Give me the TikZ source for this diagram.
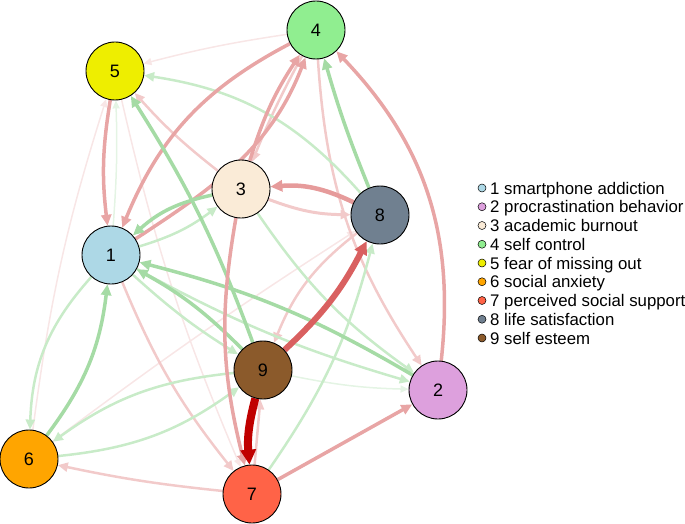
\documentclass[tikz,border=0pt]{standalone}
\usepackage{fontspec}
\setmainfont{Liberation Sans}
\usetikzlibrary{arrows.meta,backgrounds}
\definecolor{cA}{HTML}{ADD8E6}
\definecolor{cB}{HTML}{DDA0DD}
\definecolor{cC}{HTML}{FAEBD7}
\definecolor{cD}{HTML}{90EE90}
\definecolor{cE}{HTML}{EEEE00}
\definecolor{cF}{HTML}{FFA500}
\definecolor{cG}{HTML}{FF6347}
\definecolor{cH}{HTML}{708090}
\definecolor{cI}{HTML}{8B5A2B}
\definecolor{rD}{HTML}{C00000}
\definecolor{rS}{HTML}{D96060}
\definecolor{rM}{HTML}{E8A5A5}
\definecolor{rL}{HTML}{F2CACA}
\definecolor{rF}{HTML}{F8E6E6}
\definecolor{gM}{HTML}{A5DBA5}
\definecolor{gL}{HTML}{C8EBC8}
\definecolor{gF}{HTML}{E4F4E4}
\tikzset{
  vtx/.style={circle,draw=black,line width=0.9pt,minimum size=58pt,inner sep=0pt,font=\fontsize{18}{18}\selectfont},
  edR/.style={draw=rD,line width=8pt,-{Triangle[length=15pt,width=15pt]}},
  edS/.style={draw=rS,line width=6pt,-{Triangle[length=13pt,width=13pt]}},
  edM/.style={draw=rM,line width=3.5pt,-{Triangle[length=11pt,width=10pt]}},
  edL/.style={draw=rL,line width=2.5pt,-{Triangle[length=10pt,width=9pt]}},
  edF/.style={draw=rF,line width=1.5pt,-{Triangle[length=8pt,width=7pt]}},
  egM/.style={draw=gM,line width=3.5pt,-{Triangle[length=11pt,width=10pt]}},
  egL/.style={draw=gL,line width=2.5pt,-{Triangle[length=10pt,width=9pt]}},
  egF/.style={draw=gF,line width=1.5pt,-{Triangle[length=8pt,width=7pt]}},
  legdot/.style={circle,draw=black,line width=0.5pt,minimum size=8pt,inner sep=0pt},
  legtxt/.style={anchor=base west,inner sep=0pt,font=\fontsize{16.8}{18}\selectfont}
}
\begin{document}
\begin{tikzpicture}[x=1pt,y=-1pt]
\useasboundingbox (0,0) rectangle (685,524);
\node[vtx,fill=cA] (n1) at (111,255) {1};
\node[vtx,fill=cB] (n2) at (438,390) {2};
\node[vtx,fill=cC] (n3) at (241,189) {3};
\node[vtx,fill=cD] (n4) at (316,30) {4};
\node[vtx,fill=cE] (n5) at (115,71) {5};
\node[vtx,fill=cF] (n6) at (29,459) {6};
\node[vtx,fill=cG] (n7) at (252,494) {7};
\node[vtx,fill=cH] (n8) at (380,215) {8};
\node[vtx,fill=cI] (n9) at (263,370) {9};
\begin{scope}[on background layer]
  % faint edges
  \draw[edF] (n6) to[bend left=2] (n8);
  \draw[edF] (n5) to[bend right=5] (n7);
  \draw[edF] (n6) to[bend left=5] (n5);
  \draw[egF] (n1) to[bend right=3] (n5);
  \draw[edF] (n4) to[bend right=3] (n5);
  \draw[egF] (n9) to[bend right=5] (n2);
  % light edges
  \draw[edL] (n4) to[bend right=3] (n3);
  \draw[edL] (n4) to[bend right=15] (n2);
  \draw[edL] (n3) to[bend left=5] (n5);
  \draw[edL] (n1) to[bend right=8] (n7);
  \draw[edL] (n7) to[bend left=3] (n6);
  \draw[edL] (n7) to (n9);
  \draw[edL] (n8) to[bend right=15] (n9);
  \draw[egL] (n8) to[bend right=20] (n5);
  \draw[egL] (n1) to[bend right=10] (n3);
  \draw[egL] (n1) to[bend right=6] (n2);
  \draw[egL] (n3) to[bend right=10] (n2);
  \draw[egL] (n1) to[bend right=20] (n6);
  \draw[egL] (n9) to[bend right=15] (n6);
  \draw[egL] (n6) to[bend right=15] (n9);
  \draw[egL] (n1) to[bend right=5] (n9);
  \draw[egL] (n7) to[bend right=10] (n8);
  \draw[draw=rL,line width=3pt,-{Triangle[length=10pt,width=9pt]}] (n3) to[bend right=10] (n8);
  % medium edges
  \draw[egM] (n2) to[bend right=8] (n1);
  \draw[edM] (n1) .. controls (210,190) and (270,150) .. (n4);
  \draw[edM] (n3) to[bend left=8] (n4);
  \draw[egM] (n8) to[bend left=3] (n4);
  \draw[edM] (n2) to[bend right=25] (n4);
  \draw[edM] (n4) to[bend right=20] (n1);
  \draw[egM] (n9) to[bend right=6] (n5);
  \draw[edM] (n5) to[bend right=8] (n1);
  \draw[egM] (n3) to[bend right=15] (n1);
  \draw[egM] (n9) to[bend right=8] (n1);
  \draw[egM] (n6) to[bend right=15] (n1);
  \draw[edM] (n3) to[bend right=12] (n7);
  \draw[edM] (n7) to (n2);
  \draw[draw=rM!85!rS,line width=4.5pt,-{Triangle[length=12pt,width=11pt]}] (n8) to[bend right=15] (n3);
  % strong edges
  \draw[edS] (n9) to[bend right=10] (n8);
  \draw[edR] (n9) to[bend right=10] (n7);
\end{scope}
% legend
\foreach \i/\c/\t in {1/cA/1 smartphone addiction,2/cB/2 procrastination behavior,3/cC/3 academic burnout,4/cD/4 self control,5/cE/5 fear of missing out,6/cF/6 social anxiety,7/cG/7 perceived social support,8/cH/8 life satisfaction,9/cI/9 self esteem}{
  \node[legdot,fill=\c] (d\i) at (482,{188+18.75*(\i-1)}) {};
  \node[legtxt] (t\i) at (490,{194+18.75*(\i-1)}) {\t};
}
\end{tikzpicture}
\end{document}
